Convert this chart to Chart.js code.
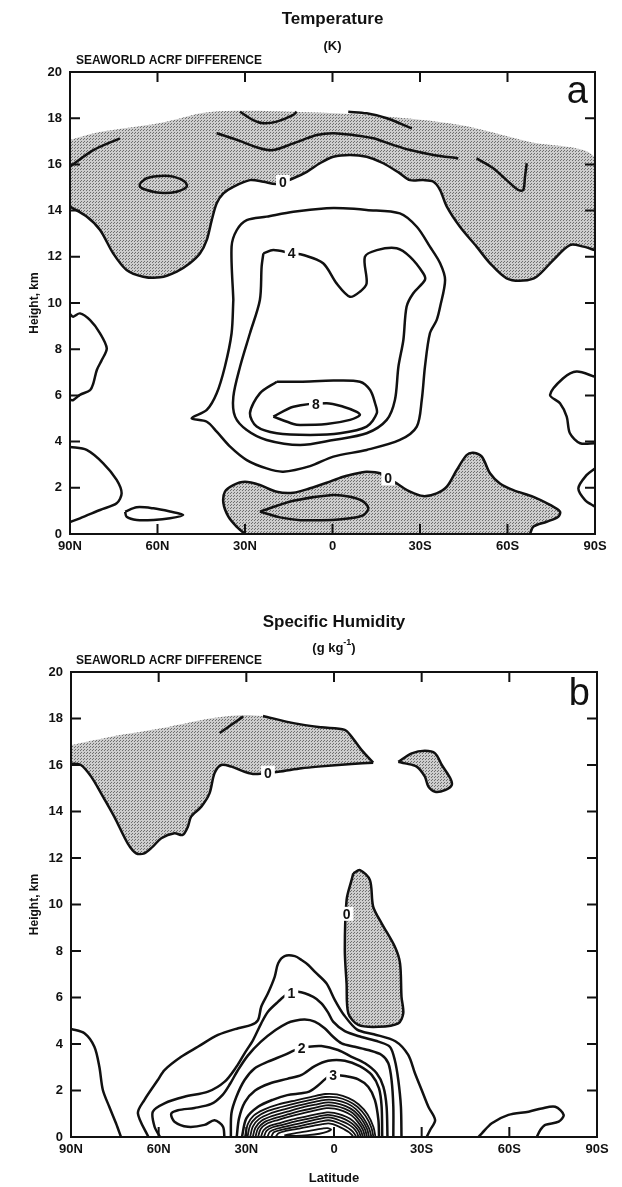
<!DOCTYPE html>
<html><head><meta charset="utf-8">
<script src="https://cdn.jsdelivr.net/npm/chart.js@4.4.0/dist/chart.umd.min.js"></script>
<style>
html,body{margin:0;padding:0;background:#fff;}
#wrap{position:relative;width:622px;height:1187px;overflow:hidden;}
canvas{position:absolute;left:0;}
#ca{top:0;} #cb{top:560px;}
</style></head><body>
<div id="wrap"><canvas id="ca" width="622" height="560" style="width:622px;height:560px"></canvas><canvas id="cb" width="622" height="627" style="width:622px;height:627px"></canvas></div>
<script>
// ---- tick labels ----
const LAT_TICKS = [-90,-60,-30,0,30,60,90];
const HEIGHT_TICKS = [0,2,4,6,8,10,12,14,16,18,20];

// ---- panel a: Temperature (K), [latitude (N+ / S-), height km] ----
const aShadeTop = [[90,17.06],[79.7,17.40],[59.1,17.79],[42.0,18.27],[11.1,18.27],[-16.3,18.10],[-43.7,17.71],[-67.7,16.97],[-90,16.28]];
const aZeroTop = [[90,14.17],[84.3,13.74],[79.7,13.16],[75.2,12.15],[70.6,11.43],[64.9,11.14],[59.1,11.11],[53.4,11.36],[48.9,11.72],[45.4,12.15],[43.1,12.73],[41.4,13.59],[39.7,14.32],[37.4,14.75],[34.0,15.03],[28.3,15.32],[23.7,15.25],[19.1,15.15],[13.4,15.40],[8.8,15.68],[4.3,16.05],[-0.3,16.33],[-6.0,16.41],[-11.7,16.33],[-17.4,16.05],[-23.1,15.61],[-26.6,15.32],[-31.1,15.32],[-34.6,15.25],[-36.9,14.89],[-39.2,14.17],[-43.7,13.30],[-49.4,12.44],[-54.0,11.72],[-59.7,11.07],[-65.4,10.97],[-70.0,11.14],[-75.7,11.86],[-81.4,12.51],[-86.0,12.44],[-90,12.29]];
const aZeroBot = [[30.0,0],[32.9,0.32],[35.7,0.75],[37.4,1.33],[36.9,1.83],[34.0,2.12],[30.0,2.26],[24.9,2.12],[19.1,1.83],[13.4,1.79],[7.7,1.98],[2.0,2.22],[-3.7,2.48],[-9.4,2.65],[-11.7,2.70],[-16.3,2.63],[-22.0,2.19],[-26.6,1.83],[-31.1,1.64],[-35.7,1.76],[-39.2,2.05],[-42.6,2.77],[-46.0,3.42],[-48.3,3.52],[-51.2,3.35],[-54.0,2.63],[-57.4,2.19],[-62.0,1.90],[-68.9,1.61],[-74.6,1.26],[-78.0,0.97],[-77.4,0.75],[-73.4,0.53],[-68.9,0.32],[-67.7,0]];
const aInnerLow = [[24.9,0.97],[13.4,1.44],[0,1.69],[-6.0,1.61],[-10.6,1.40],[-12.3,1.11],[-10.6,0.82],[-6.0,0.68],[0,0.61],[11,0.6],[18,0.72],[24.9,0.97]];
const aC2 = [[34.0,10.13],[34.6,12.44],[32.8,13.16],[29.4,13.59],[22.6,13.74],[13.4,13.95],[2.0,14.10],[-3.7,14.10],[-11.7,14.03],[-23.1,13.88],[-28.9,13.30],[-33.4,12.44],[-36.9,11.72],[-38.6,11.0],[-36.9,9.84],[-35.7,9.26],[-33.4,8.69],[-31.7,7.24],[-30.6,5.80],[-28.9,4.65],[-23.1,4.07],[-11.7,3.64],[-0.3,3.35],[7.7,2.94],[16.9,2.70],[22.6,2.84],[29.4,3.20],[35.1,3.78],[39.7,4.43],[43.1,4.86],[48.3,5.01],[43.1,5.37],[39.7,6.09],[36.9,7.24],[34.6,8.69],[34.0,10.13]];
const aC4 = [[23.7,12.15],[20.3,12.29],[14.0,12.15],[10.0,12.08],[3.2,11.72],[-1.4,10.85],[-6.0,10.27],[-9.4,10.49],[-11.7,10.85],[-11.1,12.0],[-15.2,12.29],[-22.0,12.37],[-26.6,12.0],[-31.1,11.29],[-31.7,11.0],[-27.7,10.42],[-25.4,9.84],[-24.3,8.40],[-22.6,7.24],[-21.4,5.80],[-18.6,4.94],[-11.7,4.36],[-0.3,4.07],[11.1,3.85],[22.6,4.07],[29.4,4.50],[33.4,5.08],[34.0,5.94],[31.7,7.24],[28.3,8.69],[24.9,10.13],[24.3,11.57],[23.7,12.15]];
const aC6 = [[19.1,6.59],[11.1,6.59],[-0.3,6.64],[-9.4,6.59],[-12.9,6.23],[-14.6,5.66],[-15.2,5.23],[-11.7,4.65],[-2.6,4.36],[7.7,4.29],[19.1,4.36],[26.0,4.65],[28.3,5.23],[24.9,6.09],[19.1,6.59]];
const aC8 = [[20.3,5.08],[13.4,5.51],[2.0,5.66],[-3.7,5.51],[-8.3,5.29],[-9.4,5.15],[-6.0,4.94],[2.0,4.76],[11.1,4.72],[13.4,4.76],[20.3,5.08]];
const aUpLeft = [[90,15.90],[82.0,16.62],[72.9,17.13]];
const aTop1 = [[31.7,18.28],[27.2,17.92],[23.7,17.78],[19.1,17.85],[13.4,18.14],[12.3,18.28]];
const aTop2 = [[39.7,17.35],[32.8,17.06],[24.9,16.70],[20.3,16.62],[13.4,16.91],[5.4,17.27],[-0.3,17.35],[-7.1,17.27],[-14.0,17.13],[-20.8,16.84],[-26.6,16.62],[-34.6,16.41],[-43.1,16.26]];
const aTop3 = [[-5.4,18.28],[-11.7,18.21],[-18.6,18.0],[-27.2,17.56]];
const aTop4 = [[-49.4,16.26],[-55.1,15.83],[-59.7,15.32],[-63.7,14.89],[-65.4,14.89],[-66.0,15.47],[-66.6,16.05]];
const aEll1 = [[66.0,15.18],[63.7,15.40],[59.1,15.50],[54.6,15.47],[50.6,15.25],[50.0,15.03],[53.4,14.82],[59.1,14.77],[63.7,14.89],[66.0,15.03],[66.0,15.18]];
const aLeft1 = [[90,9.52],[88.9,9.41],[86.6,9.55],[83.1,9.26],[79.7,8.69],[77.4,8.04],[79.1,7.53],[80.8,7.10],[82.0,6.52],[83.1,6.23],[86.6,6.02],[88.9,5.80],[90,5.80]];
const aLeft2 = [[90,3.77],[84.3,3.64],[78.6,3.06],[74.0,2.34],[72.3,1.76],[74.0,1.33],[79.7,1.04],[86.6,0.68],[90,0.52]];
const aEll2 = [[71.1,0.97],[67.1,1.16],[61.4,1.11],[55.7,0.97],[51.2,0.82],[55.7,0.68],[61.4,0.61],[67.1,0.61],[70.6,0.75],[71.1,0.97]];
const aRight1 = [[-90,6.81],[-83.7,7.03],[-79.1,6.74],[-74.6,6.02],[-78.0,5.66],[-80.3,5.08],[-81.4,4.36],[-84.9,3.93],[-90,3.93]];
const aRight2 = [[-90,2.84],[-87.1,2.55],[-84.3,1.98],[-86.6,1.47],[-90,1.18]];
const aLabels = [[17.0,15.24,'0'],[14.0,12.16,'4'],[5.7,5.61,'8'],[-19.1,2.41,'0']];

// ---- panel b: Specific Humidity (g/kg) ----
const bShadeTop = [[90,16.86],[76.3,17.22],[59.1,17.58],[42.0,18.01],[31.1,18.15],[24.3,18.11]];
const bTopLine = [[24.3,18.11],[13.4,17.79],[4.3,17.62],[-3.7,17.51],[-6.0,17.22],[-9.4,16.65],[-13.4,16.10]];
const bZeroTop = [[-13.4,16.10],[-6.0,16.04],[5.4,15.93],[11.1,15.86],[19.1,15.71],[27.2,15.61],[30.6,15.71],[35.1,15.93],[38.6,16.0],[40.9,15.64],[42.6,14.78],[45.4,14.21],[48.9,13.78],[50.0,13.35],[51.8,12.99],[54.6,13.06],[59.1,12.85],[62.0,12.49],[64.9,12.20],[67.7,12.20],[70.6,12.63],[75.2,13.78],[79.7,14.78],[83.1,15.50],[86.6,16.0],[90,16.07]];
const bDash = [[39.1,17.38],[31.1,18.08]];
const bBlobRight = [[-22.0,16.14],[-26.6,16.50],[-31.1,16.61],[-34.6,16.50],[-36.9,16.0],[-39.8,15.43],[-40.3,15.14],[-38.0,14.92],[-34.6,14.85],[-32.3,15.07],[-31.1,15.50],[-28.3,15.93],[-24.3,16.07],[-22.0,16.14]];
const bBlobMid = [[-6.6,11.34],[-8.9,11.48],[-12.3,11.05],[-13.4,9.91],[-16.3,9.19],[-20.8,8.19],[-22.6,7.47],[-23.1,6.03],[-23.7,5.32],[-22.0,4.89],[-15.2,4.74],[-8.3,4.82],[-4.9,5.32],[-4.3,6.61],[-3.7,8.04],[-4.3,10.19],[-6.0,11.05],[-6.6,11.34]];
const b90N = [[90,4.65],[85.4,4.46],[82.0,3.88],[80.3,3.02],[79.1,2.02],[76.9,1.30],[74.6,0.59],[72.9,0]];
const bC1 = [[63.5,0],[67.1,1.02],[64.9,1.59],[60.3,2.45],[58.0,2.88],[52.3,3.45],[46.6,3.88],[39.7,4.39],[32.8,4.68],[28.3,4.82],[26.0,5.03],[24.9,5.60],[22.6,6.18],[20.3,6.89],[19.1,7.47],[16.9,7.78],[13.4,7.78],[11.1,7.61],[8.8,7.40],[6.6,7.11],[2.6,6.61],[-0.3,5.89],[-3.4,5.25],[-7.9,4.62],[-13.6,4.42],[-21.0,4.12],[-25.4,3.53],[-27.7,2.74],[-30.0,2.02],[-32.3,1.30],[-34.6,0.73],[-32.9,0.30],[-31.7,0]];
const bC2 = [[59.5,0],[61.4,0.44],[62.0,1.09],[58.0,1.45],[51.2,1.73],[43.1,1.95],[37.4,2.38],[33.4,3.02],[30.6,3.60],[27.7,4.17],[24.9,4.89],[22.6,5.39],[19.1,5.82],[16.3,6.11],[12.3,6.25],[7.1,6.03],[4.3,5.75],[2.0,5.35],[0.3,4.96],[-3.7,4.55],[-9.4,4.30],[-15.2,4.10],[-19.1,3.88],[-20.8,3.31],[-22.0,2.45],[-22.9,1.30],[-23.1,0]];
const bC3 = [[37.5,0],[38.0,0.45],[40.9,0.72],[44.3,0.52],[50.0,0.44],[54.6,0.66],[55.7,1.0],[53.4,1.15],[47.7,1.25],[42.0,1.42],[38.2,1.8],[35.5,2.3],[33.0,2.85],[29.5,3.5],[25.0,4.1],[20.0,4.6],[16.0,4.9],[13.4,5.0],[10.0,5.05],[6.6,4.96],[3.2,4.68],[0.3,4.31],[-2.6,4.03],[-7.1,3.88],[-11.7,3.74],[-16.3,3.53],[-18.6,3.17],[-19.7,2.45],[-20.3,1.30],[-20.3,0]];
const bC4 = [[35.3,0],[35.1,1.02],[33.4,1.73],[30.6,2.45],[27.2,2.95],[22.6,3.24],[16.9,3.53],[13.4,3.74],[11.1,3.81],[8.8,3.88],[4.3,3.91],[-1.4,3.74],[-6.0,3.45],[-10.6,3.17],[-14.6,2.74],[-16.9,2.16],[-18.0,1.30],[-18.3,0]];
const bC5 = [[33.3,0],[32.5,0.8],[30.5,1.5],[27.0,2.0],[22.0,2.3],[16.0,2.5],[11.1,2.67],[6.6,3.05],[2.0,3.28],[-3.7,3.28],[-8.8,3.05],[-12.9,2.67],[-15.4,2.09],[-16.3,1.30],[-16.5,0]];
const bC6 = [[31.5,0],[30.0,0.8],[26.0,1.3],[21.0,1.6],[16.0,1.8],[11.1,1.88],[8.5,1.95],[6.0,2.16],[2.0,2.59],[0.3,2.67],[-3.7,2.62],[-8.3,2.48],[-11.7,2.16],[-14.0,1.59],[-15.2,0.73],[-15.4,0]];
const bD1 = [[30.5,0],[29.5,0.55],[27.5,0.92],[24,1.18],[19,1.4],[13,1.58],[8,1.72],[3,1.85],[-1,1.83],[-5,1.67],[-8.5,1.4],[-11.5,0.97],[-13.5,0.43],[-14.2,0]];
const bD2 = [[29.6,0],[28.7,0.5],[26.6,0.84],[23,1.1],[18,1.29],[12.5,1.47],[7.5,1.61],[3,1.72],[-1,1.7],[-4.8,1.55],[-8,1.3],[-10.8,0.9],[-12.8,0.4],[-13.5,0]];
const bD3 = [[28.7,0],[27.8,0.45],[25.7,0.77],[22,1.0],[17,1.19],[12,1.36],[7,1.5],[3,1.6],[-0.8,1.58],[-4.5,1.44],[-7.5,1.2],[-10,0.83],[-12,0.37],[-12.8,0]];
const bD4 = [[27.8,0],[26.9,0.4],[24.8,0.7],[21,0.91],[16,1.09],[11.5,1.25],[6.5,1.39],[3,1.48],[-0.5,1.46],[-4,1.33],[-7,1.11],[-9.4,0.77],[-11.3,0.35],[-12,0]];
const bD5 = [[26.9,0],[26,0.37],[23.9,0.63],[20,0.82],[15.5,0.98],[11,1.13],[6,1.27],[2.8,1.36],[-0.3,1.34],[-3.6,1.22],[-6.5,1.02],[-8.8,0.7],[-10.6,0.33],[-11.3,0]];
const bD6 = [[26,0],[25.1,0.34],[23,0.57],[19,0.74],[15,0.89],[10.5,1.03],[6,1.16],[2.6,1.24],[-0.2,1.22],[-3.2,1.11],[-6,0.93],[-8.2,0.64],[-9.9,0.31],[-10.6,0]];
const bD7 = [[25,0],[24.1,0.29],[22,0.48],[18,0.62],[14.5,0.75],[10,0.87],[5.8,0.98],[2.4,1.06],[0,1.04],[-2.8,0.94],[-5.5,0.78],[-7.6,0.55],[-9.2,0.27],[-9.9,0]];
const bD8 = [[24,0],[23.1,0.26],[21,0.42],[17,0.54],[13.5,0.66],[9.5,0.77],[5.5,0.88],[2.2,0.95],[0.2,0.92],[-2.4,0.83],[-5,0.68],[-7,0.49],[-8.5,0.24],[-9.2,0]];
const bD9 = [[22.8,0],[21.9,0.23],[19.5,0.36],[15.5,0.48],[12,0.58],[8.5,0.68],[5,0.78],[2,0.84],[0,0.8],[-2.2,0.7],[-4.6,0.57],[-6.5,0.4],[-7.8,0.2],[-8.4,0]];
const bD10 = [[21.5,0],[20.6,0.2],[18,0.31],[14,0.41],[11,0.49],[7.5,0.59],[4.5,0.67],[2,0.72],[0.2,0.68],[-1.8,0.59],[-4,0.45],[-5.8,0.3],[-7,0.14],[-7.6,0]];
const bD11 = [[20,0],[19,0.16],[16.5,0.26],[13,0.34],[9.5,0.42],[6.5,0.5],[4,0.55],[2,0.59],[0.4,0.55],[-1.5,0.46],[-3.5,0.33],[-5.2,0.2],[-6.2,0.08],[-6.6,0]];
const bD12 = [[17,0.07],[13.5,0.16],[10,0.23],[7,0.3],[4,0.36],[2.2,0.38],[1,0.32],[2.5,0.22],[5,0.14],[9,0.08],[13,0.05],[17,0.07]];
const b60S = [[-49.4,0],[-50.6,0.16],[-54.0,0.59],[-59.7,0.95],[-66.6,1.09],[-71.1,1.23],[-75.7,1.30],[-78.6,0.95],[-76.9,0.66],[-72.3,0.52],[-70.6,0.30],[-69.4,0]];
const bLabels = [[22.6,15.67,'0'],[-4.3,9.6,'0'],[14.6,6.17,'1'],[11.1,3.81,'2'],[0.3,2.67,'3']];

// ---- helpers ----
const FONT = "'Liberation Sans', Arial, Helvetica, sans-serif";
Chart.defaults.font.family = FONT;
Chart.defaults.color = '#111';

function stipple(){
  const c = document.createElement('canvas'); c.width = 3; c.height = 3;
  const g = c.getContext('2d');
  g.fillStyle = '#cdcdcd'; g.fillRect(0,0,3,3);
  g.fillStyle = '#6e6e6e'; g.fillRect(0,0,1,1); g.fillRect(2,1,1,1);
  return g.createPattern(c,'repeat');
}
const PAT = stipple();
const pts = a => a.map(p => ({x:p[0], y:p[1]}));
function line(arr, w){ return {data:pts(arr), showLine:true, borderColor:'#111', borderWidth:w||2.5, pointRadius:0, tension:0.3, fill:false, order:0}; }
function shade(arr){ return {data:pts(arr), showLine:true, borderColor:'rgba(0,0,0,0)', borderWidth:0, backgroundColor:PAT, pointRadius:0, tension:0.3, fill:'shape', order:10}; }
const latLabel = v => v === 0 ? '0' : (v > 0 ? v + 'N' : (-v) + 'S');

function labelPlugin(items){
  return {id:'clabels', afterDatasetsDraw(chart){
    const {ctx, scales:{x, y}} = chart;
    ctx.save();
    ctx.font = 'bold 14px ' + FONT; ctx.textAlign = 'center'; ctx.textBaseline = 'middle';
    items.forEach(it => {
      const px = x.getPixelForValue(it[0]), py = y.getPixelForValue(it[1]);
      const w = ctx.measureText(it[2]).width + 6;
      ctx.fillStyle = '#fff'; ctx.fillRect(px - w/2, py - 7, w, 14);
      ctx.fillStyle = '#111'; ctx.fillText(it[2], px, py + 1);
    });
    ctx.restore();
  }};
}
const framePlugin = {id:'frame', afterDatasetsDraw(chart){
  const {ctx, chartArea:a, scales:{x, y}} = chart;
  ctx.save(); ctx.strokeStyle = '#111'; ctx.lineWidth = 2;
  ctx.strokeRect(a.left, a.top, a.right - a.left, a.bottom - a.top);
  ctx.beginPath();
  LAT_TICKS.forEach(v => { if (Math.abs(v) === 90) return; const px = x.getPixelForValue(v);
    ctx.moveTo(px, a.bottom); ctx.lineTo(px, a.bottom - 10); ctx.moveTo(px, a.top); ctx.lineTo(px, a.top + 10); });
  HEIGHT_TICKS.forEach(v => { if (v === 0 || v === 20) return; const py = y.getPixelForValue(v);
    ctx.moveTo(a.left, py); ctx.lineTo(a.left + 10, py); ctx.moveTo(a.right, py); ctx.lineTo(a.right - 10, py); });
  ctx.stroke(); ctx.restore();
}};
function titlePlugin(t){
  return {id:'titles', afterDraw(chart){
    const ctx = chart.ctx, cx = (chart.chartArea.left + chart.chartArea.right)/2;
    ctx.save(); ctx.fillStyle = '#111'; ctx.textBaseline = 'middle'; ctx.textAlign = 'center';
    ctx.font = 'bold 17px ' + FONT; ctx.fillText(t.main, cx, t.y0);
    ctx.font = 'bold 13px ' + FONT;
    if (t.sup) {
      const w1 = ctx.measureText(t.unit).width; ctx.font = 'bold 9px ' + FONT;
      const w2 = ctx.measureText(t.sup).width; ctx.font = 'bold 13px ' + FONT;
      const w3 = ctx.measureText(')').width; const s = cx - (w1 + w2 + w3)/2;
      ctx.textAlign = 'left'; ctx.fillText(t.unit, s, t.y1);
      ctx.font = 'bold 9px ' + FONT; ctx.fillText(t.sup, s + w1, t.y1 - 5);
      ctx.font = 'bold 13px ' + FONT; ctx.fillText(')', s + w1 + w2, t.y1);
    } else { ctx.fillText(t.unit, cx, t.y1); }
    ctx.textAlign = 'left'; ctx.font = 'bold 12px ' + FONT;
    ctx.fillText('SEAWORLD ACRF DIFFERENCE', 76, t.y2);
    ctx.textAlign = 'right'; ctx.textBaseline = 'alphabetic'; ctx.font = '38px ' + FONT;
    ctx.fillText(t.letter, chart.chartArea.right - 7, t.yl);
    ctx.restore();
  }};
}
function scales(xAxisH, yAxisW, xTitle){
  return {
    x:{type:'linear', min:-90, max:90, reverse:true,
      afterBuildTicks: s => { s.ticks = LAT_TICKS.map(v => ({value:v})); },
      afterFit: s => { s.height = xAxisH; },
      ticks:{callback:latLabel, font:{size:13, weight:'bold'}, padding:5, maxRotation:0, autoSkip:false},
      grid:{display:false, drawTicks:false}, border:{display:false},
      title: xTitle ? {display:true, text:xTitle, font:{size:13, weight:'bold'}, padding:{top:0, bottom:1}} : {display:false}},
    y:{type:'linear', min:0, max:20,
      afterBuildTicks: s => { s.ticks = HEIGHT_TICKS.map(v => ({value:v})); },
      afterFit: s => { s.width = yAxisW; },
      ticks:{font:{size:13, weight:'bold'}, padding:8},
      grid:{display:false, drawTicks:false}, border:{display:false},
      title:{display:true, text:'Height, km', font:{size:12, weight:'bold'}, padding:{top:27, bottom:0}}}
  };
}
function baseOpts(pad, xAxisH, yAxisW, xTitle){
  return {responsive:false, animation:false, events:[], layout:{padding:pad},
    plugins:{legend:{display:false}, tooltip:{enabled:false}, title:{display:false}},
    scales:scales(xAxisH, yAxisW, xTitle)};
}

// ---- chart a ----
new Chart(document.getElementById('ca'), {
  type:'scatter',
  data:{datasets:[
    line(aZeroTop), line(aZeroBot), line(aInnerLow), line(aC2), line(aC4), line(aC6), line(aC8),
    line(aUpLeft), line(aTop1), line(aTop2), line(aTop3), line(aTop4), line(aEll1),
    line(aLeft1), line(aLeft2), line(aEll2), line(aRight1), line(aRight2),
    shade(aShadeTop.concat(aZeroTop.slice().reverse())), shade(aZeroBot)
  ]},
  options:baseOpts({top:72, right:27, left:0, bottom:0}, 26, 70, null),
  plugins:[labelPlugin(aLabels), framePlugin, titlePlugin({main:'Temperature', unit:'(K)', y0:19, y1:46, y2:61, letter:'a', yl:103})]
});

// ---- chart b ----
new Chart(document.getElementById('cb'), {
  type:'scatter',
  data:{datasets:[
    line(bTopLine), line(bZeroTop), line(bDash), line(bBlobRight), line(bBlobMid), line(b90N),
    line(bC1), line(bC2), line(bC3), line(bC4), line(bC5), line(bC6),
    line(bD1,1.8), line(bD2,1.8), line(bD3,1.8), line(bD4,1.8), line(bD5,1.8), line(bD6,1.8),
    line(bD7,1.8), line(bD8,1.8), line(bD9,1.8), line(bD10,1.8), line(bD11,1.8), line(bD12,1.8),
    line(b60S),
    shade(bShadeTop.concat(bTopLine, bZeroTop)), shade(bBlobRight), shade(bBlobMid)
  ]},
  options:baseOpts({top:112, right:25, left:0, bottom:0}, 50, 71, 'Latitude'),
  plugins:[labelPlugin(bLabels), framePlugin, titlePlugin({main:'Specific Humidity', unit:'(g kg', sup:'-1', y0:62, y1:88, y2:101, letter:'b', yl:145})]
});
</script>
</body></html>
